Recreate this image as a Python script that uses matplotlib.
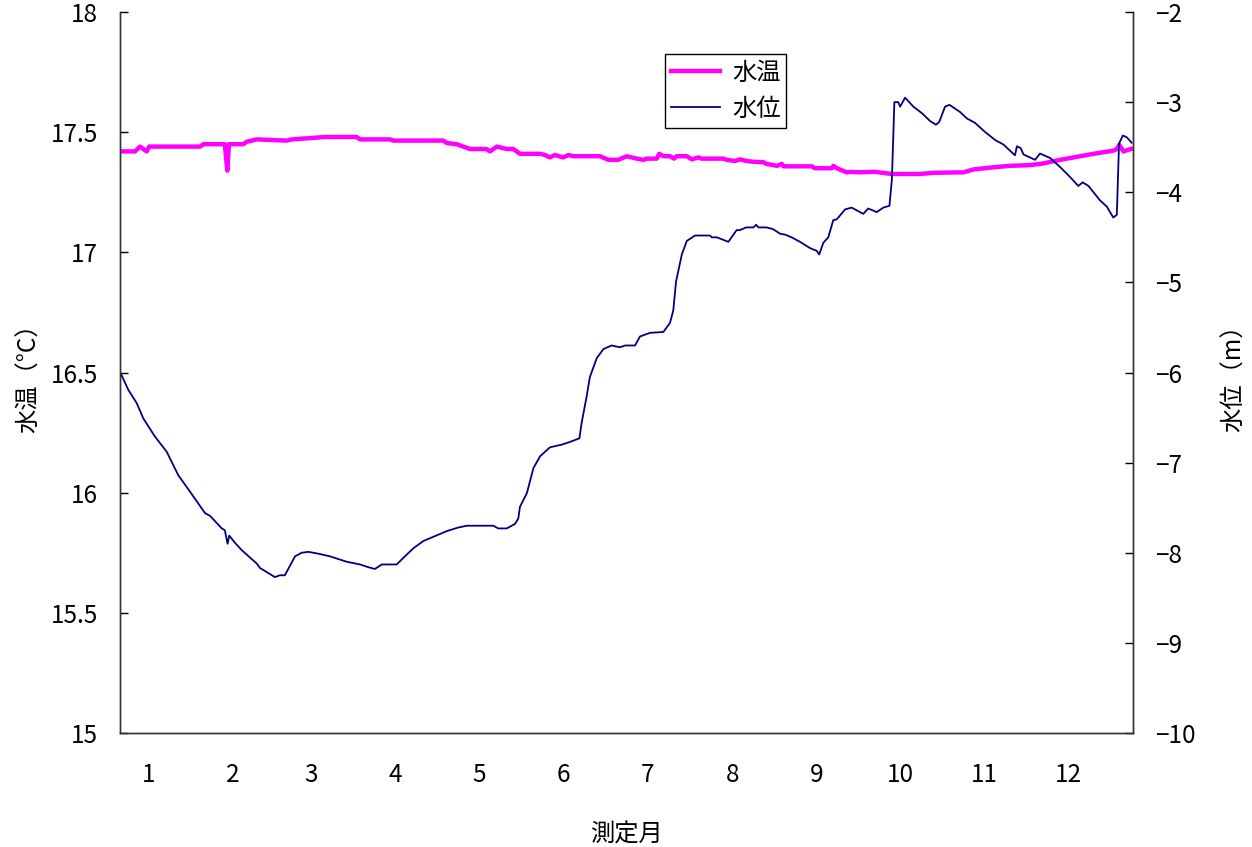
import matplotlib.pyplot as plt
import numpy as np

plt.rcParams['font.family'] = ['Noto Sans CJK JP', 'DejaVu Sans']

# 水温 (day of year, °C)
temp_day = [5.1, 10.0, 11.8, 13.0, 14.2, 15.1, 33.6, 34.8, 42.6, 43.5, 44.1, 49.3,
            50.5, 54.2, 65.1, 66.9, 79.0, 80.2, 90.5, 91.7, 102.6, 103.8, 122.0, 123.2,
            126.8, 131.7, 137.7, 138.9, 141.4, 145.0, 147.4, 149.8, 157.1, 158.9, 160.7,
            162.5, 165.5, 167.4, 169.2, 178.9, 181.9, 185.5, 188.6, 192.2, 194.6, 195.8,
            199.5, 200.4, 201.9, 204.3, 205.8, 206.7, 210.4, 212.2, 214.6, 215.8, 223.7,
            224.9, 227.9, 229.7, 232.2, 234.6, 238.2, 239.4, 243.1, 244.9, 245.5, 255.8,
            257.0, 263.1, 263.6, 264.9, 268.5, 269.7, 272.7, 278.8, 284.9, 295.1, 300.0,
            310.9, 314.5, 321.8, 327.8, 335.1, 339.9, 346.0, 353.3, 358.1, 365.3, 366.6,
            367.5, 369.0, 371.7]
temp_val = [17.42, 17.42, 17.44, 17.43, 17.42, 17.44, 17.44, 17.45, 17.45, 17.34, 17.45, 17.45,
            17.46, 17.47, 17.465, 17.47, 17.48, 17.48, 17.48, 17.47, 17.47, 17.465, 17.465, 17.455,
            17.45, 17.43, 17.43, 17.42, 17.44, 17.43, 17.43, 17.41, 17.41, 17.405, 17.395,
            17.405, 17.395, 17.405, 17.40, 17.40, 17.385, 17.385, 17.40, 17.39, 17.385, 17.39,
            17.39, 17.41, 17.40, 17.40, 17.39, 17.40, 17.40, 17.387, 17.395, 17.39, 17.39,
            17.385, 17.38, 17.387, 17.38, 17.377, 17.375, 17.368, 17.36, 17.368, 17.358, 17.358,
            17.35, 17.35, 17.36, 17.35, 17.333, 17.335, 17.333, 17.335, 17.326, 17.326, 17.331,
            17.333, 17.345, 17.354, 17.36, 17.363, 17.37, 17.385, 17.40, 17.41, 17.423, 17.43,
            17.447, 17.42, 17.43]

# 水位 (day of year, m)
level_day = [5.1, 7.5, 10.6, 13.0, 17.2, 21.5, 25.7, 29.9, 35.4, 37.2, 41.5, 42.6,
             43.6, 44.2, 46.3, 48.7, 54.2, 55.4, 60.8, 62.6, 64.4, 68.1, 70.5, 72.9,
             76.5, 80.8, 86.9, 91.7, 94.7, 97.1, 99.6, 105.0, 108.0, 111.1, 114.7, 120.1,
             123.2, 127.4, 130.5, 140.1, 141.9, 145.0, 148.0, 149.2, 149.8, 152.3, 154.7,
             157.1, 160.7, 165.0, 168.0, 171.4, 172.2, 174.0, 175.2, 177.7, 180.1, 183.1,
             186.1, 188.0, 191.6, 193.4, 197.0, 201.9, 204.3, 205.5, 206.5, 208.6, 210.4,
             213.4, 218.8, 219.5, 221.3, 225.5, 228.5, 229.7, 231.9, 234.6, 235.6, 236.4,
             239.4, 241.8, 244.3, 246.1, 248.5, 251.5, 255.2, 257.6, 258.5, 260.0, 261.8,
             263.6, 264.9, 267.9, 270.3, 272.1, 274.5, 276.3, 279.4, 281.8, 284.0, 284.9,
             285.8, 287.2, 287.9, 289.7, 292.7, 295.7, 298.8, 300.9, 302.1, 304.2, 305.8,
             309.7, 312.1, 315.1, 318.7, 322.4, 325.4, 329.6, 330.3, 331.7, 332.7, 336.9,
             338.7, 342.4, 346.0, 349.6, 352.6, 354.2, 356.3, 360.5, 363.0, 365.3, 366.6,
             367.4, 368.8, 370.2, 372.0]
level_val = [-6.03, -6.19, -6.34, -6.51, -6.71, -6.88, -7.14, -7.32, -7.56, -7.59, -7.73, -7.75,
             -7.90, -7.81, -7.89, -7.97, -8.12, -8.17, -8.27, -8.25, -8.25, -8.04, -8.00, -7.99,
             -8.01, -8.04, -8.10, -8.13, -8.16, -8.18, -8.13, -8.13, -8.04, -7.95, -7.87, -7.80,
             -7.76, -7.72, -7.70, -7.70, -7.73, -7.73, -7.68, -7.62, -7.49, -7.34, -7.06,
             -6.93, -6.83, -6.80, -6.77, -6.73, -6.56, -6.27, -6.05, -5.84, -5.74, -5.70,
             -5.72, -5.70, -5.70, -5.60, -5.56, -5.55, -5.45, -5.31, -4.99, -4.69, -4.54,
             -4.48, -4.48, -4.50, -4.50, -4.55, -4.42, -4.42, -4.39, -4.39, -4.36, -4.39,
             -4.39, -4.41, -4.46, -4.47, -4.50, -4.55, -4.62, -4.65, -4.69, -4.56, -4.50,
             -4.31, -4.30, -4.19, -4.17, -4.20, -4.24, -4.18, -4.22, -4.17, -4.15, -3.86,
             -3.00, -3.00, -3.05, -2.95, -3.05, -3.12, -3.21, -3.25, -3.22, -3.05, -3.03,
             -3.11, -3.18, -3.23, -3.33, -3.42, -3.47, -3.59, -3.49, -3.51, -3.58, -3.64,
             -3.57, -3.62, -3.72, -3.83, -3.93, -3.89, -3.93, -4.09, -4.16, -4.28, -4.25,
             -3.46, -3.37, -3.39, -3.45]

month_pos = [15, 45.5, 74, 104.5, 135, 165.5, 196, 227, 257.5, 288, 318.5, 349]
month_labels = [str(m) for m in range(1, 13)]

fig = plt.figure(figsize=(12.52, 8.47), dpi=100)
ax = fig.add_axes([0.0958, 0.1346, 0.8092, 0.8512])
ax2 = ax.twinx()

l1, = ax.plot(temp_day, temp_val, color='#ff00ff', linewidth=3.2, label='水温', zorder=2)
l2, = ax2.plot(level_day, level_val, color='#000080', linewidth=1.3, label='水位', zorder=3)

ax.set_xlim(4.5, 372.5)
ax.set_ylim(15, 18)
ax.set_yticks(np.arange(15, 18.01, 0.5))
ax.set_yticklabels(['15', '15.5', '16', '16.5', '17', '17.5', '18'])
ax2.set_ylim(-10, -2)
ax2.set_yticks(range(-10, -1))

ax.set_xticks(month_pos)
ax.set_xticklabels(month_labels)

fs = 17.5
ax.tick_params(axis='x', length=0, pad=21, labelsize=fs)
ax.tick_params(axis='y', direction='in', length=6, width=1, pad=16, labelsize=fs)
ax2.tick_params(axis='y', direction='in', length=6, width=1, pad=16, labelsize=fs)

for a in (ax, ax2):
    a.spines['top'].set_visible(False)
    for s in ('left', 'right', 'bottom'):
        a.spines[s].set_color('#333333')
        a.spines[s].set_linewidth(1.0)

ax.set_ylabel('水温（°C）', fontsize=fs, labelpad=6)
ax2.set_ylabel('水位（m）', fontsize=fs, labelpad=18)
ax.set_xlabel('測定月', fontsize=fs, labelpad=24)

leg = ax.legend(handles=[l1, l2], loc='upper left', bbox_to_anchor=(0.526, 0.959),
                fontsize=fs, frameon=True, fancybox=False, framealpha=1,
                edgecolor='black', borderpad=0.25, handlelength=2.0, labelspacing=0.4,
                handletextpad=0.5)
leg.get_frame().set_linewidth(1.0)
leg.set_zorder(10)

fig.savefig('out.png', dpi=100)
